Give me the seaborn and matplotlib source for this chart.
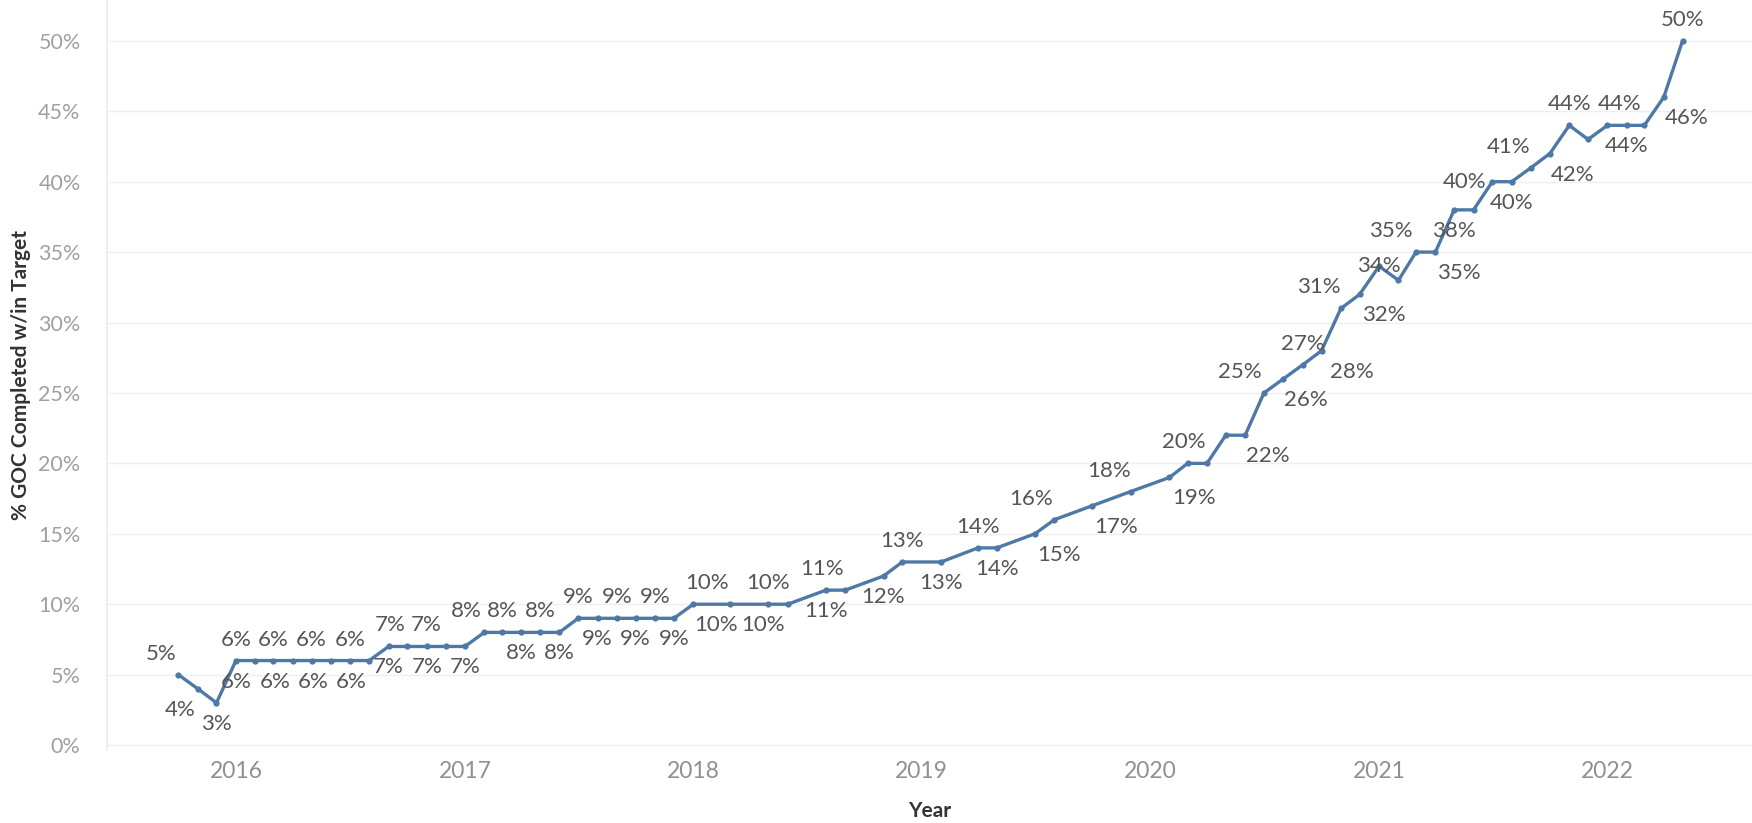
import pandas as pd
import seaborn as sns
import matplotlib.pyplot as plt
import matplotlib.dates as mdates
from matplotlib.ticker import MultipleLocator, FuncFormatter

# monthly readings (some months are missing in the source)
months = [
    "2015-10", "2015-11", "2015-12",
    "2016-01", "2016-02", "2016-03", "2016-04", "2016-05", "2016-06", "2016-07", "2016-08",
    "2016-09", "2016-10", "2016-11", "2016-12",
    "2017-01", "2017-02", "2017-03", "2017-04", "2017-05", "2017-06",
    "2017-07", "2017-08", "2017-09", "2017-10", "2017-11", "2017-12",
    "2018-01", "2018-03", "2018-05", "2018-06", "2018-08", "2018-09", "2018-11", "2018-12",
    "2019-02", "2019-04", "2019-05", "2019-07", "2019-08", "2019-10", "2019-12",
    "2020-02", "2020-03", "2020-04", "2020-05", "2020-06", "2020-07", "2020-08",
    "2020-09", "2020-10", "2020-11", "2020-12",
    "2021-01", "2021-02", "2021-03", "2021-04", "2021-05", "2021-06", "2021-07",
    "2021-08", "2021-09", "2021-10", "2021-11", "2021-12",
    "2022-01", "2022-02", "2022-03", "2022-04", "2022-05",
]
pct_within_target = [
    5, 4, 3,
    6, 6, 6, 6, 6, 6, 6, 6,
    7, 7, 7, 7,
    7, 8, 8, 8, 8, 8,
    9, 9, 9, 9, 9, 9,
    10, 10, 10, 10, 11, 11, 12, 13,
    13, 14, 14, 15, 16, 17, 18,
    19, 20, 20, 22, 22, 25, 26,
    27, 28, 31, 32,
    34, 33, 35, 35, 38, 38, 40,
    40, 41, 42, 44, 43,
    44, 44, 44, 46, 50,
]

# where each value label sits: a=above, b=below, c=on the point, l=left, ""=hidden
label_side = [
    "a", "b", "b",
    "a", "b", "a", "b", "a", "b", "a", "b",
    "b", "a", "b", "a",
    "b", "a", "a", "b", "a", "b",
    "a", "b", "a", "b", "a", "b",
    "a", "b", "a", "b", "b", "a", "b", "a",
    "b", "a", "b", "b", "a", "b", "a",
    "b", "a", "", "", "b", "a", "b",
    "a", "b", "a", "b",
    "c", "", "a", "b", "b", "", "l",
    "b", "a", "b", "a", "",
    "", "b", "a", "b", "a",
]
label_dx = [
    -17, -18, 0,
    0, -19, 0, -18, 0, -18, 0, -18,
    0, -17, 0, -19,
    0, -18, 0, 0, 0, 0,
    0, 0, 0, 0, 0, 0,
    14, -14, 0, -25, 0, -23, 0, 0,
    0, 0, 0, 24, -23, 24, -22,
    25, -4, 0, 0, 23, -24, 23,
    0, 30, -22, 24,
    0, 0, -25, 23, 0, 0, -28,
    0, -23, 23, 0, 0,
    0, 0, -25, 23, 0,
]

df = pd.DataFrame({"month": pd.to_datetime(months), "pct": pct_within_target})

sns.set_theme(style="white")
plt.rcParams["font.family"] = ["Lato", "DejaVu Sans"]

W, H = 1752, 823
fig = plt.figure(figsize=(W / 100, H / 100), dpi=100)
ax = fig.add_axes([107 / W, 73 / H, 1 - 107 / W, 750 / H])

sns.lineplot(data=df, x="month", y="pct", ax=ax, color="#4e79a7", linewidth=2.4,
             marker="o", markersize=4.5, markeredgewidth=0)

for x, y, side, dx in zip(df["month"], df["pct"], label_side, label_dx):
    if not side:
        continue
    dy = {"a": 21, "b": -21, "c": 0, "l": 0}[side]
    ax.annotate(f"{y:.0f}%", (x, y), xytext=(dx, dy), textcoords="offset pixels",
                ha="center", va="center", fontsize=16, color="#555555")

ax.set_xlim(pd.Timestamp("2015-06-09"), pd.Timestamp("2022-08-20"))
ax.set_ylim(-0.35, 52.9)

ax.xaxis.set_major_locator(mdates.YearLocator())
ax.xaxis.set_major_formatter(mdates.DateFormatter("%Y"))
ax.yaxis.set_major_locator(MultipleLocator(5))
ax.yaxis.set_major_formatter(FuncFormatter(lambda v, p: f"{v:.0f}%"))

ax.tick_params(axis="y", length=0, pad=19, labelsize=15.5, labelcolor="#a0a0a0")
ax.tick_params(axis="x", length=0, pad=8, labelsize=16.5, labelcolor="#909090")
ax.get_yticklabels()[0].set_va("bottom")

ax.yaxis.grid(True, color="#efefef", linewidth=1)
ax.xaxis.grid(False)
for s in ["top", "right", "bottom"]:
    ax.spines[s].set_visible(False)
ax.spines["left"].set_color("#ececec")

ax.set_ylabel("% GOC Completed w/in Target", fontsize=15, color="#333333", fontweight="bold")
ax.yaxis.label.set_va("center")
ax.yaxis.set_label_coords(-0.0523, 0.5)
ax.set_xlabel("Year", fontsize=15, color="#333333", fontweight="bold")
ax.xaxis.label.set_va("center")
ax.xaxis.set_label_coords(0.5, -0.081)

fig.savefig("out.png", dpi=100)
